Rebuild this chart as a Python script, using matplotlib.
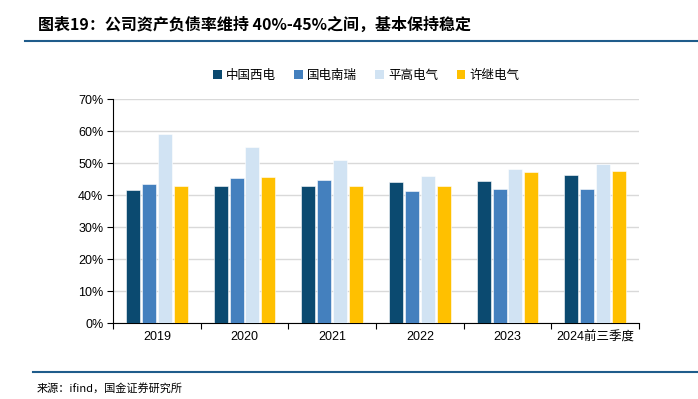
import matplotlib
matplotlib.use("Agg")
import matplotlib.pyplot as plt
import numpy as np
from matplotlib.lines import Line2D
from matplotlib.patches import Patch

plt.rcParams['font.family'] = ['Noto Sans CJK SC', 'DejaVu Sans']

categories = ["2019", "2020", "2021", "2022", "2023", "2024前三季度"]
series_names = ["中国西电", "国电南瑞", "平高电气", "许继电气"]
xd = [41.5, 42.9, 42.9, 44.0, 44.5, 46.4]
gdnr = [43.5, 45.2, 44.8, 41.4, 41.8, 41.8]
pg = [59.2, 55.0, 50.8, 46.0, 48.2, 49.7]
xj = [42.9, 45.5, 42.9, 42.9, 47.1, 47.4]
values = [xd, gdnr, pg, xj]
colors = ["#0B4A70", "#4480BE", "#D1E3F3", "#FFC000"]
yticks = [0, 10, 20, 30, 40, 50, 60, 70]

W, H = 698, 399
fig = plt.figure(figsize=(W / 100, H / 100), dpi=100)
ax = fig.add_axes([113 / W, 1 - 323 / H, (639 - 113) / W, (323 - 99) / H])

x = np.arange(len(categories))
bw = 0.16
step = 0.182
for i, (vals, c) in enumerate(zip(values, colors)):
    ax.bar(x + (i - 1.5) * step, vals, width=bw, color=c, edgecolor='white',
           linewidth=0.4, zorder=3)

ax.set_xlim(-0.5, len(categories) - 0.5)
ax.set_ylim(0, 70)
ax.set_yticks(yticks)
ax.set_yticklabels([f"{v}%" for v in yticks], fontsize=9, family=['Liberation Sans', 'DejaVu Sans'])
ax.yaxis.grid(True, color='#D9D9D9', linewidth=1, zorder=0)
ax.set_xticks(x)
ax.set_xticklabels(categories, fontsize=9, family=['Liberation Sans', 'Noto Sans CJK SC'])
ax.tick_params(axis='x', length=0, pad=6)
ax.tick_params(axis='y', length=4, direction='out', width=0.8, pad=3)
ax.set_xticks(np.arange(-0.5, len(categories), 1), minor=True)
ax.tick_params(axis='x', which='minor', length=4, direction='out', width=0.8)
for s in ['top', 'right']:
    ax.spines[s].set_visible(False)
ax.spines['left'].set_linewidth(0.8)
ax.spines['bottom'].set_linewidth(0.8)

handles = [Patch(facecolor=c, edgecolor='none') for c in colors]
fig.legend(handles, series_names, loc='center', bbox_to_anchor=(366 / W, 1 - 75 / H),
           ncol=4, frameon=False, fontsize=9, handlelength=0.7, handleheight=0.7,
           handletextpad=0.3, columnspacing=1.5)

fig.text(38 / W, 1 - 25 / H, "图表19：公司资产负债率维持 40%-45%之间，基本保持稳定",
         fontsize=11.5, fontweight='bold', style='italic', va='center', ha='left')
fig.add_artist(Line2D([25 / W, 1], [1 - 41 / H, 1 - 41 / H], color='#1F5C8B', linewidth=1.5))
fig.add_artist(Line2D([33 / W, 1], [1 - 372 / H, 1 - 372 / H], color='#1F5C8B', linewidth=1.5))
fig.text(37 / W, 1 - 388 / H, "来源：ifind，国金证券研究所", fontsize=8, va='center', ha='left')

fig.savefig("out.png", dpi=100)
